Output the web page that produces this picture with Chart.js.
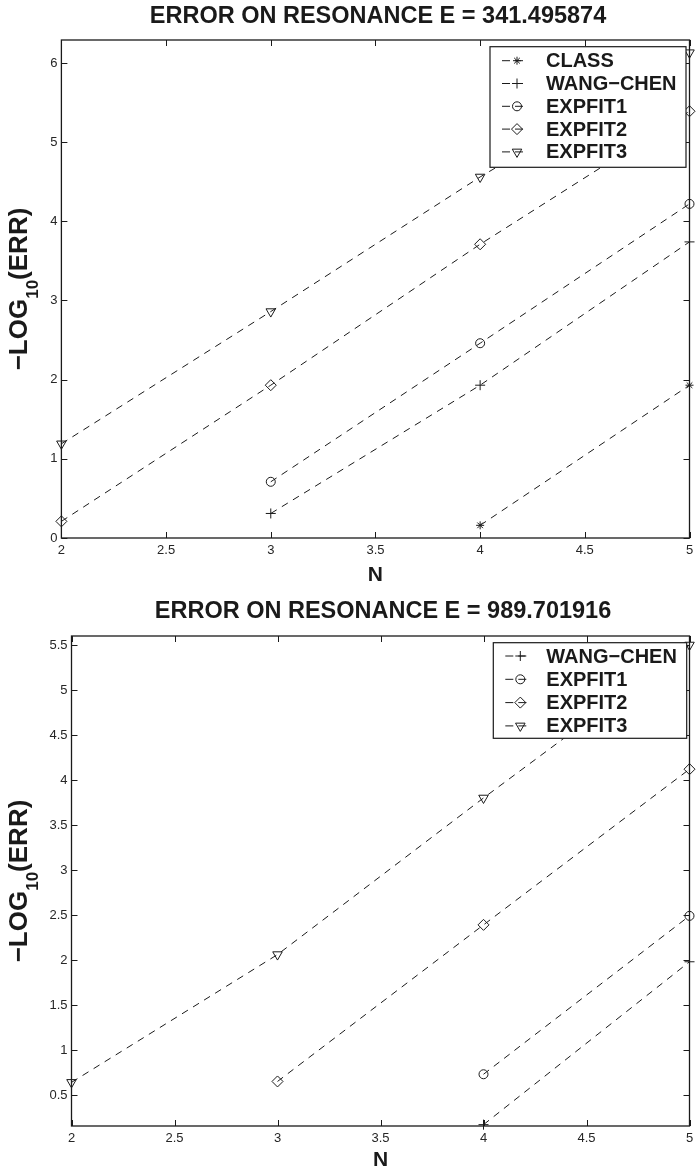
<!DOCTYPE html>
<html><head><meta charset="utf-8">
<script src="https://cdn.jsdelivr.net/npm/chart.js@4"></script>
<style>html,body{margin:0;padding:0;background:#fff;overflow:hidden}canvas{display:block}</style>
</head><body>
<canvas id="c1" width="696" height="586"></canvas>
<canvas id="c2" width="696" height="586"></canvas>
<script>
// ---------- data ----------
const nValues = [2, 3, 4, 5];
const xTicks = [2, 2.5, 3, 3.5, 4, 4.5, 5];

const title1 = 'ERROR ON RESONANCE E = 341.495874';
const class1    = [null, null, 0.16, 1.93];
const wang1     = [null, 0.31, 1.93, 3.74];
const expfit1_1 = [null, 0.71, 2.46, 4.22];
const expfit2_1 = [0.21, 1.93, 3.71, 5.39];
const expfit3_1 = [1.19, 2.86, 4.56, 6.13];
const yTicks1 = [0, 1, 2, 3, 4, 5, 6];

const title2 = 'ERROR ON RESONANCE E = 989.701916';
const wang2     = [null, null, 0.17, 1.98];
const expfit1_2 = [null, null, 0.73, 2.49];
const expfit2_2 = [null, 0.65, 2.39, 4.12];
const expfit3_2 = [0.64, 2.06, 3.80, 5.50];
const yTicks2 = [0.5, 1, 1.5, 2, 2.5, 3, 3.5, 4, 4.5, 5, 5.5];

const xLabel = 'N';
// ---------- styles ----------
const FONT = "'Liberation Sans', Arial, Helvetica, sans-serif";
const INK = '#1a1a1a';
const markerStyle = {
  'CLASS':     {pointStyle: 'star',     radius: 4,   rotation: 0},
  'WANG\u2212CHEN': {pointStyle: 'cross', radius: 5, rotation: 0},
  'EXPFIT1':   {pointStyle: 'circle',   radius: 4.5, rotation: 0},
  'EXPFIT2':   {pointStyle: 'rectRot',  radius: 5.5, rotation: 0},
  'EXPFIT3':   {pointStyle: 'triangle', radius: 5.5, rotation: 180}
};

function makeDataset(label, values) {
  const st = markerStyle[label];
  const data = [];
  values.forEach((v, i) => { if (v !== null) data.push({x: nValues[i], y: v}); });
  return {
    label, data,
    borderColor: INK, backgroundColor: 'rgba(0,0,0,0)',
    borderWidth: 1, borderDash: [7, 6],
    pointStyle: st.pointStyle, pointRadius: st.radius, pointRotation: st.rotation,
    pointBorderColor: INK, pointBackgroundColor: 'rgba(0,0,0,0)', pointBorderWidth: 1,
    pointHoverRadius: st.radius,
    tension: 0, clip: false, fill: false
  };
}

const fmt = v => String(+Number(v).toFixed(3));

const decorPlugin = {
  id: 'decor',
  afterDraw(chart, args, o) {
    const ctx = chart.ctx, a = chart.chartArea;
    const xs = chart.scales.x, ys = chart.scales.y;
    ctx.save();
    // box
    ctx.strokeStyle = INK; ctx.lineWidth = 1.3; ctx.setLineDash([]);
    ctx.strokeRect(a.left, a.top, a.right - a.left, a.bottom - a.top);
    // inward ticks
    ctx.lineWidth = 1;
    const tl = 6;
    xs.ticks.forEach(t => {
      const px = Math.round(xs.getPixelForValue(t.value)) + 0.5;
      ctx.beginPath();
      ctx.moveTo(px, a.bottom); ctx.lineTo(px, a.bottom - tl);
      ctx.moveTo(px, a.top); ctx.lineTo(px, a.top + tl);
      ctx.stroke();
    });
    ys.ticks.forEach(t => {
      const py = Math.round(ys.getPixelForValue(t.value)) + 0.5;
      ctx.beginPath();
      ctx.moveTo(a.left, py); ctx.lineTo(a.left + tl, py);
      ctx.moveTo(a.right, py); ctx.lineTo(a.right - tl, py);
      ctx.stroke();
    });
    // title
    ctx.fillStyle = INK;
    ctx.textAlign = 'center'; ctx.textBaseline = 'middle';
    ctx.font = 'bold ' + o.titleSize + 'px ' + FONT;
    ctx.fillText(o.title, o.titleX, o.titleY);
    // x label
    ctx.font = 'bold 21px ' + FONT;
    ctx.fillText(xLabel, (a.left + a.right) / 2, o.xLabelY);
    // y label with subscript
    ctx.save();
    ctx.translate(o.yLabelX, (a.top + a.bottom) / 2);
    ctx.rotate(-Math.PI / 2);
    ctx.textAlign = 'left'; ctx.textBaseline = 'alphabetic';
    const big = 'bold 26px ' + FONT, small = 'bold 17px ' + FONT;
    const p1 = '\u2212LOG', p2 = '10', p3 = '(ERR)';
    ctx.font = big; const w1 = ctx.measureText(p1).width, w3 = ctx.measureText(p3).width;
    ctx.font = small; const w2 = ctx.measureText(p2).width;
    let x0 = -(w1 + w2 + w3) / 2;
    ctx.font = big; ctx.fillText(p1, x0, 9.3);
    ctx.font = small; ctx.fillText(p2, x0 + w1, 20);
    ctx.font = big; ctx.fillText(p3, x0 + w1 + w2, 9.3);
    ctx.restore();
    // legend
    const L = o.legend;
    ctx.fillStyle = '#fff';
    ctx.fillRect(L.x, L.y, L.w, L.h);
    ctx.strokeStyle = INK; ctx.lineWidth = 1.2;
    ctx.strokeRect(L.x, L.y, L.w, L.h);
    chart.data.datasets.forEach((ds, i) => {
      const cy = L.firstRowY + i * L.rowH;
      ctx.strokeStyle = INK; ctx.lineWidth = 1;
      ctx.setLineDash([8, 5]);
      ctx.beginPath(); ctx.moveTo(L.x + 12, cy); ctx.lineTo(L.x + 37, cy); ctx.stroke();
      ctx.setLineDash([]);
      ctx.fillStyle = 'rgba(0,0,0,0)';
      ctx.strokeStyle = INK;
      Chart.helpers.drawPoint(ctx, {pointStyle: ds.pointStyle, radius: ds.pointRadius, rotation: ds.pointRotation, borderWidth: 1}, L.x + 27, cy);
      ctx.fillStyle = INK;
      ctx.font = 'bold 20px ' + FONT;
      ctx.textAlign = 'left'; ctx.textBaseline = 'middle';
      ctx.fillText(ds.label, L.x + L.textOff, cy + 1);
    });
    ctx.restore();
  }
};

function buildChart(id, datasets, yMin, yMax, yTicks, geom, decor) {
  return new Chart(document.getElementById(id), {
    type: 'line',
    data: {datasets},
    options: {
      responsive: false, animation: false, devicePixelRatio: 1,
      layout: {padding: {left: 0, top: geom.top, right: 696 - geom.right, bottom: 0}},
      plugins: {legend: {display: false}, tooltip: {enabled: false}, title: {display: false}, decor},
      elements: {line: {borderCapStyle: 'butt'}},
      scales: {
        x: {
          type: 'linear', min: 2, max: 5,
          afterBuildTicks: s => { s.ticks = xTicks.map(v => ({value: v})); },
          afterFit: s => { s.height = 586 - geom.bottom; s.paddingLeft = 0; s.paddingRight = 0; },
          grid: {display: true, drawOnChartArea: false, drawTicks: false},
          border: {display: false},
          ticks: {padding: 5, color: '#262626', font: {family: FONT, size: 13}, maxRotation: 0, autoSkip: false, callback: fmt}
        },
        y: {
          type: 'linear', min: yMin, max: yMax,
          afterBuildTicks: s => { s.ticks = yTicks.map(v => ({value: v})); },
          afterFit: s => { s.width = geom.left; s.paddingTop = 0; s.paddingBottom = 0; },
          grid: {display: true, drawOnChartArea: false, drawTicks: false},
          border: {display: false},
          ticks: {padding: 4, color: '#262626', font: {family: FONT, size: 13}, autoSkip: false, callback: fmt}
        }
      }
    },
    plugins: [decorPlugin]
  });
}

buildChart('c1', [
  makeDataset('CLASS', class1),
  makeDataset('WANG\u2212CHEN', wang1),
  makeDataset('EXPFIT1', expfit1_1),
  makeDataset('EXPFIT2', expfit2_1),
  makeDataset('EXPFIT3', expfit3_1)
], 0, 6.29, yTicks1, {left: 61.4, right: 692.7, top: 40, bottom: 538},
{title: title1, titleSize: 23.5, titleX: 378, titleY: 17, xLabelY: 575, yLabelX: 18,
 legend: {x: 490, y: 46.7, w: 196, h: 120.6, firstRowY: 60.7, rowH: 22.8, textOff: 56}});

buildChart('c2', [
  makeDataset('WANG\u2212CHEN', wang2),
  makeDataset('EXPFIT1', expfit1_2),
  makeDataset('EXPFIT2', expfit2_2),
  makeDataset('EXPFIT3', expfit3_2)
], 0.155, 5.6, yTicks2, {left: 71.5, right: 693.5, top: 50, bottom: 540},
{title: title2, titleSize: 23.5, titleX: 383, titleY: 26, xLabelY: 574, yLabelX: 18,
 legend: {x: 493.3, y: 56.7, w: 193.4, h: 95.6, firstRowY: 70, rowH: 23.3, textOff: 53}});
</script>
</body></html>
